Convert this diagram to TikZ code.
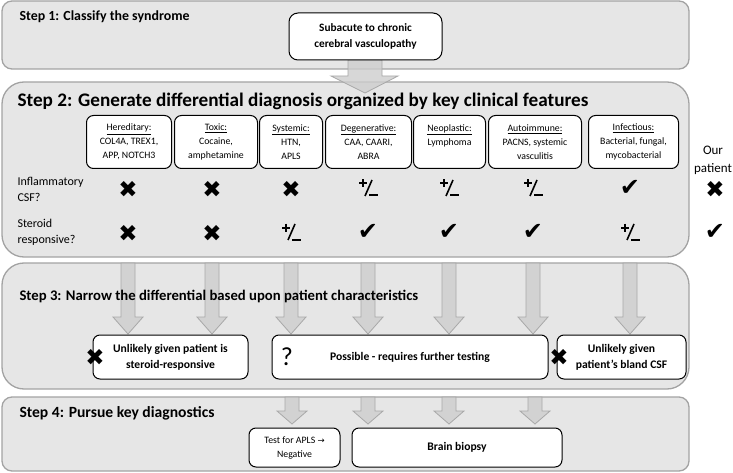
\documentclass[tikz,border=0pt]{standalone}
\usepackage{fontspec}
\setmainfont{Carlito}
\newfontfamily\symfont{DejaVu Sans}
\usetikzlibrary{positioning}

\definecolor{panelfill}{HTML}{E6E6E6}
\definecolor{panelline}{HTML}{A3A3A3}
\definecolor{arrowfill}{HTML}{CDCDCD}
\definecolor{arrowline}{HTML}{A8A8A8}

\tikzset{
  panel/.style={draw=panelline, fill=panelfill, line width=1.3pt, rounded corners=#1},
  panel/.default=10pt,
  wbox/.style={draw=black, fill=white, line width=1pt, rounded corners=7pt, align=center, inner sep=1pt},
  catbox/.style={wbox, anchor=north west, minimum height=53pt, font=\fontsize{9.8}{13.8}\selectfont},
  steptitle/.style={anchor=west, font=\bfseries\fontsize{#1}{17}\selectfont},
  steptitle/.default=14.7,
  rowlabel/.style={anchor=west, align=left, font=\fontsize{12}{16}\selectfont},
  fatarr/.style={draw=arrowline, fill=arrowfill, line width=0.8pt, fill opacity=0.8},
  symb/.style={inner sep=0pt},
  pics/pmsign/.style={code={
    \draw[line width=2pt] (-9,-4.5) -- (-1,-4.5) (-5,-8.5) -- (-5,-0.5);
    \draw[line width=1.6pt] (-3,8) -- (4,-8);
    \draw[line width=2pt] (1,7.5) -- (10,7.5);
  }}
}

% block arrow: x, top, tip, head length
\newcommand{\fatarrow}[4]{%
  \draw[fatarr] ({#1-7},#2) -- ({#1+7},#2) -- ({#1+7},{#3-#4}) -- ({#1+15},{#3-#4})
    -- (#1,#3) -- ({#1-15},{#3-#4}) -- ({#1-7},{#3-#4}) -- cycle;}

\newcommand{\xsym}{{\symfont\fontsize{23}{23}\selectfont ✖}}
\newcommand{\csym}{{\symfont\fontsize{24}{24}\selectfont ✔}}

\begin{document}
\begin{tikzpicture}[x=1pt, y=-1pt]
  \useasboundingbox (0,0) rectangle (733,473);

  % panels
  \draw[panel] (2,1) rectangle (689,69);
  \draw[panel=22pt] (2,82) rectangle (689,257);
  \draw[panel=22pt] (2,263) rectangle (689,389);
  \draw[panel] (2,397) rectangle (689,471);

  % step 1
  \node[steptitle=13.9] (t1) at (16,17) {Step 1: Classify the syndrome};
  \draw[fatarr] (348,60) -- (382,60) -- (382,76) -- (398,76) -- (365,93) -- (331,76) -- (348,76) -- cycle;
  \node[wbox, minimum width=153pt, minimum height=47pt, rounded corners=9pt,
        font=\bfseries\fontsize{11.3}{16}\selectfont] (syndrome) at (365.5,36.5)
        {Subacute to chronic\\cerebral vasculopathy};

  % step 2
  \node[steptitle=19.2] (t2) at (14,101)
        {Step 2: Generate differential diagnosis organized by key clinical features};

  \node[catbox, minimum width=85pt] (hered) at (86,115) {\underline{Hereditary:}\\COL4A, TREX1,\\APP, NOTCH3};
  \node[catbox, minimum width=83pt] (toxic) at (174,115) {\underline{Toxic:}\\Cocaine,\\amphetamine};
  \node[catbox, minimum width=63pt] (syst) at (259,115) {\underline{Systemic:}\\HTN,\\APLS};
  \node[catbox, minimum width=86pt] (degen) at (325,115) {\underline{Degenerative:}\\CAA, CAARI,\\ABRA};
  \node[catbox, minimum width=72pt] (neo) at (413,115) {\underline{Neoplastic:}\\Lymphoma\\\mbox{}};
  \node[catbox, minimum width=93pt] (auto) at (488,115) {\underline{Autoimmune:}\\PACNS, systemic\\vasculitis};
  \node[catbox, minimum width=90pt] (infec) at (588,115) {\underline{Infectious:}\\Bacterial, fungal,\\mycobacterial};

  \node[align=center, font=\fontsize{13}{18}\selectfont] (ours) at (713,160) {Our\\patient};

  \node[rowlabel] (csf) at (14,189) {Inflammatory\\CSF?};
  \node[rowlabel] (ster) at (14,232) {Steroid\\responsive?};

  \node[symb] (csf1) at (128,189) {\xsym};
  \node[symb] (csf2) at (212,189) {\xsym};
  \node[symb] (csf3) at (291,189) {\xsym};
  \pic (csf4) at (368,188) {pmsign};
  \pic (csf5) at (449,188) {pmsign};
  \pic (csf6) at (533,188) {pmsign};
  \node[symb] (csf7) at (630,188) {\csym};
  \node[symb] (csf8) at (715,189) {\xsym};

  \node[symb] (ster1) at (128,233) {\xsym};
  \node[symb] (ster2) at (212,233) {\xsym};
  \pic (ster3) at (291,232) {pmsign};
  \node[symb] (ster4) at (368,232) {\csym};
  \node[symb] (ster5) at (449,232) {\csym};
  \node[symb] (ster6) at (533,232) {\csym};
  \pic (ster7) at (630,232) {pmsign};
  \node[symb] (ster8) at (715,232) {\csym};

  % step 3
  \fatarrow{128}{263}{334}{17}
  \fatarrow{212}{263}{334}{17}
  \fatarrow{291}{263}{334}{17}
  \fatarrow{368}{263}{334}{17}
  \fatarrow{449}{263}{334}{17}
  \fatarrow{533}{263}{334}{17}
  \fatarrow{630}{263}{334}{17}

  \node[steptitle] (t3) at (16,296) {Step 3: Narrow the differential based upon patient characteristics};

  \node[wbox, minimum width=155pt, minimum height=44pt, font=\bfseries\fontsize{11.6}{16}\selectfont]
        (steroid) at (170.5,357) {Unlikely given patient is\\steroid-responsive};
  \node[wbox, minimum width=276pt, minimum height=44pt, font=\bfseries\fontsize{11.6}{16}\selectfont]
        (possible) at (410,357) {Possible - requires further testing};
  \node[wbox, minimum width=129pt, minimum height=44pt, font=\bfseries\fontsize{11.6}{16}\selectfont]
        (bland) at (621.5,357) {Unlikely given\\patient’s bland CSF};
  \node[symb] (no1) at (95,357) {\xsym};
  \node[symb] (no2) at (559,357) {\xsym};
  \node[font=\fontsize{26}{26}\selectfont] (maybe) at (287,357) {?};

  % step 4
  \fatarrow{292}{397}{424}{13}
  \fatarrow{368}{397}{424}{13}
  \fatarrow{449}{397}{424}{13}
  \fatarrow{535}{397}{424}{13}

  \node[steptitle=15.6] (t4) at (16,413) {Step 4: Pursue key diagnostics};

  \node[wbox, minimum width=91pt, minimum height=39pt, font=\fontsize{9.8}{14}\selectfont]
        (apls) at (294.5,447.5) {Test for APLS {\symfont\fontsize{8.5}{8}\selectfont →}\\Negative};
  \node[wbox, minimum width=210pt, minimum height=39pt, font=\bfseries\fontsize{11.6}{15}\selectfont]
        (biopsy) at (457,447.5) {Brain biopsy};
\end{tikzpicture}
\end{document}
